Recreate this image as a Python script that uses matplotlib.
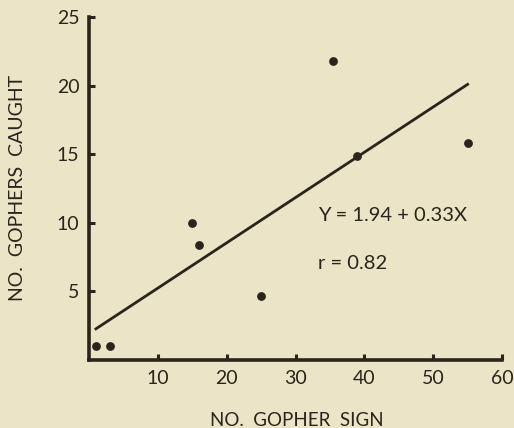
import matplotlib
matplotlib.use("Agg")
import matplotlib.pyplot as plt
import numpy as np

# gopher sign vs gophers caught
sign = [1, 3, 15, 16, 25, 35.5, 39, 55]
caught = [1, 1, 10, 8.4, 4.7, 21.8, 14.9, 15.8]
intercept = 1.94
slope = 0.33
fit_x = [1, 55]
xticks = [10, 20, 30, 40, 50, 60]
yticks = [5, 10, 15, 20, 25]

bg = '#ece4c6'
ink = '#2b241b'
plt.rcParams['font.family'] = ['Lato', 'DejaVu Sans']

fig = plt.figure(figsize=(5.14, 4.28), dpi=100, facecolor=bg)
ax = fig.add_axes([0.1732, 0.1589, 0.8035, 0.8014])
ax.set_facecolor(bg)

ax.scatter(sign, caught, s=28, c=ink, zorder=3)
fx = np.array(fit_x)
ax.plot(fx, intercept + slope * fx, color=ink, lw=2)

ax.set_xlim(0, 60)
ax.set_ylim(0, 25)
ax.set_xticks(xticks)
ax.set_yticks(yticks)
for s in ['top', 'right']:
    ax.spines[s].set_visible(False)
for s in ['left', 'bottom']:
    ax.spines[s].set_linewidth(2.6)
    ax.spines[s].set_color(ink)
ax.tick_params(direction='in', length=4, width=2.2, color=ink,
               labelcolor=ink, labelsize=14, pad=7)

ax.text(33.3, 10.5, 'Y = 1.94 + 0.33X', fontsize=14.5, color=ink, va='center')
ax.text(33.3, 7.0, 'r = 0.82', fontsize=14.5, color=ink, va='center')

fig.text(0.578, 0.005, 'NO.  GOPHER  SIGN', fontsize=13.5, color=ink, ha='center')
fig.text(0.035, 0.56, 'NO.  GOPHERS  CAUGHT', fontsize=14, color=ink,
         rotation=90, va='center', ha='center')

fig.savefig('out.png', dpi=100, facecolor=bg)
